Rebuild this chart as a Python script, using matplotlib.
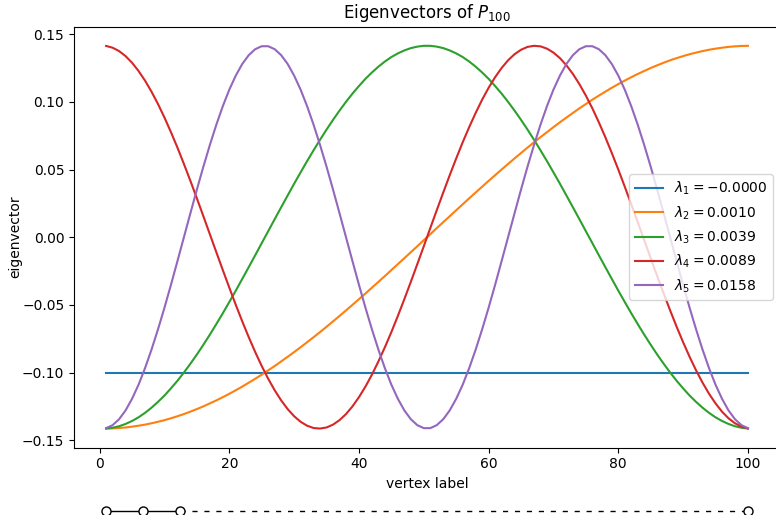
import matplotlib
matplotlib.use('Agg')
import matplotlib.pyplot as plt

# vertex labels of the path graph P_100
vertex = list(range(1, 101))

# eigenvector entries (one list per eigenvalue)
v1 = [-0.1] * 100
v2 = [-0.1414, -0.1413, -0.1410, -0.1406, -0.1400, -0.1393, -0.1385, -0.1375, -0.1364, -0.1352,
      -0.1338, -0.1323, -0.1307, -0.1289, -0.1270, -0.1250, -0.1228, -0.1206, -0.1182, -0.1157,
      -0.1131, -0.1104, -0.1075, -0.1046, -0.1016, -0.0984, -0.0952, -0.0918, -0.0884, -0.0849,
      -0.0813, -0.0776, -0.0739, -0.0701, -0.0662, -0.0622, -0.0582, -0.0541, -0.0500, -0.0458,
      -0.0416, -0.0373, -0.0330, -0.0287, -0.0243, -0.0199, -0.0155, -0.0111, -0.0067, -0.0022,
      0.0022, 0.0067, 0.0111, 0.0155, 0.0199, 0.0243, 0.0287, 0.0330, 0.0373, 0.0416,
      0.0458, 0.0500, 0.0541, 0.0582, 0.0622, 0.0662, 0.0701, 0.0739, 0.0776, 0.0813,
      0.0849, 0.0884, 0.0918, 0.0952, 0.0984, 0.1016, 0.1046, 0.1075, 0.1104, 0.1131,
      0.1157, 0.1182, 0.1206, 0.1228, 0.1250, 0.1270, 0.1289, 0.1307, 0.1323, 0.1338,
      0.1352, 0.1364, 0.1375, 0.1385, 0.1393, 0.1400, 0.1406, 0.1410, 0.1413, 0.1414]
v3 = [-0.1414, -0.1408, -0.1397, -0.1380, -0.1358, -0.1331, -0.1298, -0.1260, -0.1217, -0.1170,
      -0.1117, -0.1061, -0.1000, -0.0935, -0.0867, -0.0795, -0.0720, -0.0642, -0.0562, -0.0479,
      -0.0395, -0.0308, -0.0221, -0.0133, -0.0044,
      0.0044, 0.0133, 0.0221, 0.0308, 0.0395, 0.0479, 0.0562, 0.0642, 0.0720, 0.0795,
      0.0867, 0.0935, 0.1000, 0.1061, 0.1117, 0.1170, 0.1217, 0.1260, 0.1298, 0.1331,
      0.1358, 0.1380, 0.1397, 0.1408, 0.1414,
      0.1414, 0.1408, 0.1397, 0.1380, 0.1358, 0.1331, 0.1298, 0.1260, 0.1217, 0.1170,
      0.1117, 0.1061, 0.1000, 0.0935, 0.0867, 0.0795, 0.0720, 0.0642, 0.0562, 0.0479,
      0.0395, 0.0308, 0.0221, 0.0133, 0.0044,
      -0.0044, -0.0133, -0.0221, -0.0308, -0.0395, -0.0479, -0.0562, -0.0642, -0.0720, -0.0795,
      -0.0867, -0.0935, -0.1000, -0.1061, -0.1117, -0.1170, -0.1217, -0.1260, -0.1298, -0.1331,
      -0.1358, -0.1380, -0.1397, -0.1408, -0.1414]
v4 = [0.1413, 0.1400, 0.1375, 0.1338, 0.1289, 0.1228, 0.1157, 0.1075, 0.0984, 0.0884,
      0.0776, 0.0662, 0.0541, 0.0416, 0.0287, 0.0155, 0.0022,
      -0.0111, -0.0243, -0.0373, -0.0500, -0.0622, -0.0739, -0.0849, -0.0952, -0.1046, -0.1131,
      -0.1206, -0.1270, -0.1323, -0.1364, -0.1393, -0.1410,
      -0.1414, -0.1406, -0.1385, -0.1352, -0.1307, -0.1250, -0.1182, -0.1104, -0.1016, -0.0918,
      -0.0813, -0.0701, -0.0582, -0.0458, -0.0330, -0.0199, -0.0067,
      0.0067, 0.0199, 0.0330, 0.0458, 0.0582, 0.0701, 0.0813, 0.0918, 0.1016, 0.1104,
      0.1182, 0.1250, 0.1307, 0.1352, 0.1385, 0.1406, 0.1414,
      0.1410, 0.1393, 0.1364, 0.1323, 0.1270, 0.1206, 0.1131, 0.1046, 0.0952, 0.0849,
      0.0739, 0.0622, 0.0500, 0.0373, 0.0243, 0.0111,
      -0.0022, -0.0155, -0.0287, -0.0416, -0.0541, -0.0662, -0.0776, -0.0884, -0.0984, -0.1075,
      -0.1157, -0.1228, -0.1289, -0.1338, -0.1375, -0.1400, -0.1413]
v5 = [-0.1411, -0.1389, -0.1345, -0.1280, -0.1194, -0.1090, -0.0968, -0.0831, -0.0681, -0.0521,
      -0.0352, -0.0177,
      0.0000, 0.0177, 0.0352, 0.0521, 0.0681, 0.0831, 0.0968, 0.1090, 0.1194, 0.1280,
      0.1345, 0.1389, 0.1411,
      0.1411, 0.1389, 0.1345, 0.1280, 0.1194, 0.1090, 0.0968, 0.0831, 0.0681, 0.0521,
      0.0352, 0.0177,
      0.0000, -0.0177, -0.0352, -0.0521, -0.0681, -0.0831, -0.0968, -0.1090, -0.1194, -0.1280,
      -0.1345, -0.1389, -0.1411,
      -0.1411, -0.1389, -0.1345, -0.1280, -0.1194, -0.1090, -0.0968, -0.0831, -0.0681, -0.0521,
      -0.0352, -0.0177, 0.0000,
      0.0177, 0.0352, 0.0521, 0.0681, 0.0831, 0.0968, 0.1090, 0.1194, 0.1280, 0.1345,
      0.1389, 0.1411,
      0.1411, 0.1389, 0.1345, 0.1280, 0.1194, 0.1090, 0.0968, 0.0831, 0.0681, 0.0521,
      0.0352, 0.0177, 0.0000,
      -0.0177, -0.0352, -0.0521, -0.0681, -0.0831, -0.0968, -0.1090, -0.1194, -0.1280, -0.1345,
      -0.1389, -0.1411]
eigenvalues = ['-0.0000', '0.0010', '0.0039', '0.0089', '0.0158']

# nodes of the little path drawing under the axes
path_nodes = [1, 6.75, 12.4, 100]

fig = plt.figure(figsize=(7.76, 5.15), dpi=100)
ax = fig.add_axes([0.0954, 0.1307, 0.9098, 0.8175])

for k, v in enumerate([v1, v2, v3, v4, v5]):
    ax.plot(vertex, v, label=r'$\lambda_{%d} = %s$' % (k + 1, eigenvalues[k]))

ax.set_title(r'Eigenvectors of $P_{100}$')
ax.set_xlabel('vertex label')
ax.set_ylabel('eigenvector', labelpad=0)
ax.legend(loc='center right')

# path graph sketch below the x axis
ax2 = fig.add_axes([0.0954, 0.0, 0.9098, 0.0167])
ax2.set_xlim(ax.get_xlim())
ax2.set_ylim(-1, 1)
ax2.plot(path_nodes[:3], [0] * 3, color='black', lw=1, clip_on=False)
ax2.plot(path_nodes[2:], [0] * 2, color='black', lw=1, dashes=(3.7, 4.9), clip_on=False)
ax2.plot(path_nodes, [0] * 4, 'o', mfc='white', mec='black', ms=6.5, clip_on=False)
ax2.axis('off')

fig.savefig('out.png', dpi=100)
